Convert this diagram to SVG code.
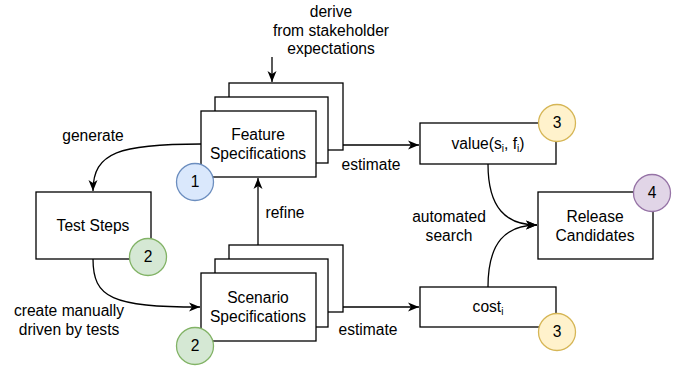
<svg xmlns="http://www.w3.org/2000/svg" width="680" height="366" viewBox="0 0 680 366">
<style>
text{font-family:"Liberation Sans",Arial,sans-serif;font-size:15.6px;fill:#000;text-anchor:middle}
.box{fill:#fff;stroke:#000;stroke-width:1.3}
.edge{fill:none;stroke:#000;stroke-width:1.3}
.c1{fill:#dae8fc;stroke:#6c8ebf;stroke-width:1.3}
.c2{fill:#d5e8d4;stroke:#82b366;stroke-width:1.3}
.c3{fill:#fff2cc;stroke:#d6b656;stroke-width:1.3}
.c4{fill:#e1d5e7;stroke:#9673a6;stroke-width:1.3}
.sub{font-size:10px}
</style>
<defs>
<marker id="arr" markerUnits="userSpaceOnUse" markerWidth="12" markerHeight="10" viewBox="0 0 12 10" refX="11" refY="5" orient="auto">
<path d="M0,0.5 L11,5 L0,9.5 L3,5 Z" fill="#000"/>
</marker>
</defs>
<g id="connectors">
<path class="edge" d="M272,57 L272,82" marker-end="url(#arr)"/>
<path class="edge" d="M343,145 L419,145" marker-end="url(#arr)"/>
<path class="edge" d="M201,144 C120,144 93,152 93,191" marker-end="url(#arr)"/>
<path class="edge" d="M93,259 C93,298 112,307 200,307" marker-end="url(#arr)"/>
<path class="edge" d="M258,245 L258,178" marker-end="url(#arr)"/>
<path class="edge" d="M343,307 L419,307" marker-end="url(#arr)"/>
<path class="edge" d="M488,164 C488,208 506,225 537,225" marker-end="url(#arr)"/>
<path class="edge" d="M488,287 C488,242 506,225 537,225" marker-end="url(#arr)"/>
<text x="331" y="17">derive</text>
<text x="331" y="36">from stakeholder</text>
<text x="331" y="54">expectations</text>
<text x="371" y="170">estimate</text>
<text x="93" y="141">generate</text>
<text x="69" y="316">create manually</text>
<text x="69" y="335">driven by tests</text>
<text x="285" y="218">refine</text>
<text x="368" y="335">estimate</text>
<text x="449" y="222">automated</text>
<text x="449" y="241">search</text>
</g>
<g id="feature">
<rect class="box" x="229" y="83" width="114" height="67"/>
<rect class="box" x="215" y="97" width="113" height="66"/>
<rect class="box" x="201" y="111" width="115" height="66"/>
<text x="258" y="140">Feature</text>
<text x="258" y="159">Specifications</text>
</g>
<g id="badge1">
<circle class="c1" cx="195" cy="182" r="18.5"/>
<text x="195" y="187">1</text>
</g>
<g id="teststeps">
<rect class="box" x="36" y="192" width="115" height="67"/>
<text x="93" y="231">Test Steps</text>
</g>
<g id="badge2a">
<circle class="c2" cx="148" cy="257" r="18.5"/>
<text x="148" y="262">2</text>
</g>
<g id="scenario">
<rect class="box" x="229" y="245" width="114" height="67"/>
<rect class="box" x="215" y="259" width="113" height="68"/>
<rect class="box" x="201" y="273" width="115" height="68"/>
<text x="258" y="303">Scenario</text>
<text x="258" y="322">Specifications</text>
</g>
<g id="badge2b">
<circle class="c2" cx="195" cy="346" r="18.5"/>
<text x="195" y="351">2</text>
</g>
<g id="value">
<rect class="box" x="420" y="123" width="136" height="41"/>
<text x="488" y="149">value(s<tspan class="sub" dy="3">i</tspan><tspan dy="-3">, f</tspan><tspan class="sub" dy="3">i</tspan><tspan dy="-3">)</tspan></text>
</g>
<g id="badge3a">
<circle class="c3" cx="557" cy="123" r="18.5"/>
<text x="557" y="128">3</text>
</g>
<g id="release">
<rect class="box" x="538" y="192" width="115" height="67"/>
<text x="595" y="222">Release</text>
<text x="595" y="241">Candidates</text>
</g>
<g id="badge4">
<circle class="c4" cx="652" cy="193" r="18.5"/>
<text x="652" y="198">4</text>
</g>
<g id="cost">
<rect class="box" x="420" y="287" width="136" height="40"/>
<text x="488" y="312">cost<tspan class="sub" dy="3">i</tspan></text>
</g>
<g id="badge3b">
<circle class="c3" cx="557" cy="332" r="18.5"/>
<text x="557" y="337">3</text>
</g>
</svg>
